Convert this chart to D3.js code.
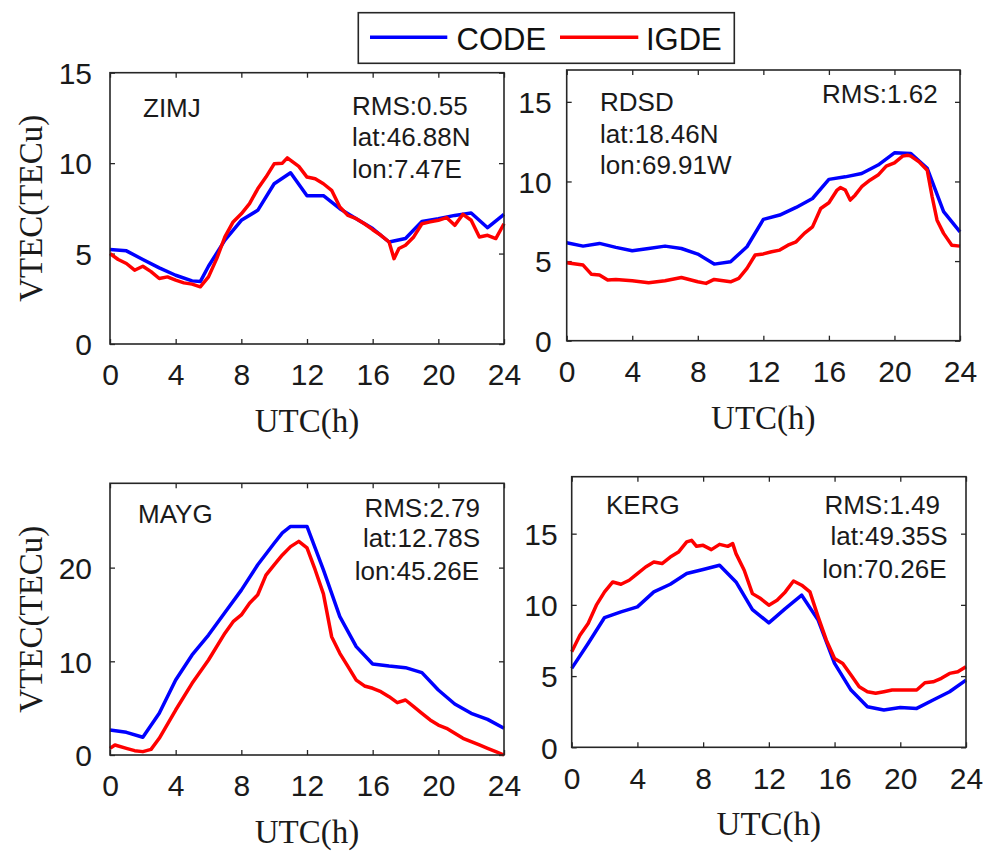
<!DOCTYPE html>
<html>
<head>
<meta charset="utf-8">
<script src="https://cdn.jsdelivr.net/npm/d3@7"></script>
<style>
  html, body { margin: 0; padding: 0; background: #fff; }
  svg { display: block; }
</style>
</head>
<body>
<svg id="chart" width="986" height="852"></svg>
<script>
// ---------------- DATA ----------------
const seriesNames = ["CODE", "IGDE"];
const xTicks = [0, 4, 8, 12, 16, 20, 24];

const stations = ["ZIMJ", "RDSD", "MAYG", "KERG"];
const rmsLabels = ["RMS:0.55", "RMS:1.62", "RMS:2.79", "RMS:1.49"];
const latLabels = ["lat:46.88N", "lat:18.46N", "lat:12.78S", "lat:49.35S"];
const lonLabels = ["lon:7.47E", "lon:69.91W", "lon:45.26E", "lon:70.26E"];
const yMaxes = [15, 17, 29, 19];
const yTicks = [[0, 5, 10, 15], [0, 5, 10, 15], [0, 10, 20], [0, 5, 10, 15]];

// [UTC hour, VTEC]
const zimjCode = [[0,5.22],[1,5.15],[2,4.67],[3,4.21],[4,3.8],[5,3.49],[5.5,3.45],[6,4.3],[7,5.74],[8,6.84],[9,7.39],[10,8.86],[11,9.47],[12,8.2],[13,8.2],[14,7.48],[15,6.93],[16,6.38],[17,5.64],[18,5.83],[19,6.78],[20,6.93],[21,7.11],[22,7.24],[23,6.43],[24,7.17]];
const zimjIgde = [[0,5.0],[0.5,4.67],[1,4.45],[1.5,4.08],[2,4.3],[2.5,4.0],[3,3.62],[3.5,3.71],[4,3.53],[4.5,3.38],[5,3.31],[5.5,3.16],[6,3.71],[6.5,4.72],[7,5.92],[7.5,6.75],[8,7.2],[8.5,7.76],[9,8.58],[9.5,9.23],[10,9.96],[10.5,10.0],[10.8,10.29],[11.5,9.82],[12,9.23],[12.5,9.14],[13,8.86],[13.5,8.5],[14,7.57],[14.5,7.11],[15,6.93],[15.5,6.65],[16,6.32],[16.5,6.01],[17,5.64],[17.3,4.72],[17.6,5.28],[18,5.46],[18.5,5.92],[19,6.65],[19.5,6.75],[20,6.84],[20.5,6.99],[21,6.56],[21.5,7.17],[22,6.84],[22.5,5.92],[23,6.01],[23.5,5.83],[24,6.65]];

const rdsdCode = [[0,6.15],[1,5.94],[2,6.11],[3,5.86],[4,5.65],[5,5.79],[6,5.94],[7,5.79],[8,5.44],[9,4.81],[10,4.96],[11,5.9],[12,7.62],[13,7.89],[14,8.37],[15,8.93],[16,10.13],[17,10.29],[18,10.5],[19,11.03],[20,11.8],[21,11.76],[22,10.82],[23,8.1],[24,6.84]];
const rdsdIgde = [[0,4.9],[1,4.75],[1.5,4.18],[2,4.12],[2.5,3.81],[3,3.85],[4,3.77],[5,3.64],[6,3.77],[7,3.97],[8,3.7],[8.5,3.6],[9,3.85],[10,3.7],[10.5,3.91],[11,4.54],[11.5,5.38],[12,5.45],[12.5,5.59],[13,5.69],[13.5,6.0],[14,6.21],[14.5,6.74],[15,7.15],[15.5,8.3],[16,8.66],[16.5,9.46],[16.7,9.62],[17,9.46],[17.3,8.83],[17.6,9.14],[18,9.67],[18.5,10.08],[19,10.4],[19.5,10.96],[20,11.17],[20.5,11.59],[20.8,11.65],[21,11.59],[21.5,11.23],[22,10.71],[22.3,9.04],[22.6,7.57],[23,6.74],[23.5,6.0],[24,5.94]];

const maygCode = [[0,2.67],[1,2.42],[2,1.89],[3,4.45],[4,8.0],[5,10.68],[6,12.8],[7,15.2],[8,17.6],[9,20.3],[10,22.6],[10.5,23.7],[11,24.4],[12,24.4],[13,19.75],[14,14.77],[15,11.57],[16,9.72],[17,9.5],[18,9.32],[19,8.79],[20,6.94],[21,5.44],[22,4.45],[23,3.8],[24,2.85]];
const maygIgde = [[0,0.71],[0.3,1.07],[1,0.71],[1.5,0.46],[2,0.36],[2.5,0.6],[3,1.78],[4,4.8],[5,7.65],[6,10.14],[7,13.0],[7.5,14.23],[8,14.95],[8.5,16.2],[9,17.1],[9.5,19.2],[10,20.3],[10.5,21.35],[11,22.24],[11.5,22.8],[12,22.1],[12.5,19.75],[13,17.2],[13.5,12.63],[14,10.85],[14.5,9.43],[15,8.0],[15.5,7.37],[16,7.12],[16.5,6.76],[17,6.23],[17.5,5.59],[18,5.87],[18.5,5.16],[19,4.45],[19.5,3.74],[20,3.2],[20.5,2.85],[21,2.31],[21.5,1.78],[22,1.42],[22.5,1.07],[23,0.71],[23.5,0.36],[24,0.0]];

const kergCode = [[0,5.54],[1,7.29],[2,9.11],[3,9.51],[4,9.86],[5,10.91],[6,11.45],[7,12.2],[8,12.48],[9,12.78],[10,11.61],[11,9.67],[12,8.74],[13,9.74],[14,10.68],[15,8.93],[16,5.89],[17,4.02],[18,2.85],[19,2.62],[20,2.8],[21,2.73],[22,3.32],[23,3.9],[24,4.72]];
const kergIgde = [[0,6.71],[0.5,7.87],[1,8.69],[1.5,9.98],[2,10.91],[2.5,11.61],[3,11.45],[3.5,11.73],[4,12.2],[4.5,12.66],[5,13.01],[5.5,12.9],[6,13.36],[6.5,13.71],[7,14.42],[7.3,14.53],[7.6,14.11],[8,14.18],[8.5,13.88],[9,14.25],[9.5,14.11],[9.8,14.3],[10,13.6],[10.5,12.43],[11,10.79],[11.5,10.44],[12,9.98],[12.5,10.33],[13,10.91],[13.5,11.68],[14,11.38],[14.5,10.91],[15,9.16],[15.5,7.52],[16,6.24],[16.5,5.89],[17,5.07],[17.5,4.25],[18,3.9],[18.5,3.79],[19,3.9],[19.5,4.02],[20,4.02],[21,4.02],[21.5,4.53],[22,4.6],[22.5,4.84],[23,5.19],[23.5,5.3],[24,5.65]];

const codeSeries = [zimjCode, rdsdCode, maygCode, kergCode];
const igdeSeries = [zimjIgde, rdsdIgde, maygIgde, kergIgde];

// ---------------- LAYOUT / STYLE ----------------
const colors = { CODE: "#0000ff", IGDE: "#ff0000" };
const SANS = "'Liberation Sans', Arial, sans-serif";
const SERIF = "'Liberation Serif', 'Times New Roman', serif";
const axisColor = "#262626";

const layout = [
  { left: 110, right: 504, top: 72.7, bottom: 344, ylabel: true, yLabGap: 18,
    name: [143, 117], infoAnchor: "start",
    rms: [352, 115], lat: [352, 146], lon: [352, 177.5] },
  { left: 566.7, right: 960, top: 70, bottom: 340.7, ylabel: false, yLabGap: 15,
    name: [600, 110.7], infoAnchor: "start",
    rms: [822, 103.3], lat: [600, 142.5], lon: [600, 174] },
  { left: 110, right: 504, top: 483.3, bottom: 755, ylabel: true, yLabGap: 18,
    name: [138, 522.7], infoAnchor: "end",
    rms: [480, 516.7], lat: [480, 547.3], lon: [479, 580] },
  { left: 571.7, right: 966, top: 476.7, bottom: 747.3, ylabel: false, yLabGap: 14,
    name: [606, 514], infoAnchor: "end",
    rms: [940, 514], lat: [947.5, 545], lon: [946.5, 578.3] }
];

const svg = d3.select("#chart");

layout.forEach((L, i) => {
  const x = d3.scaleLinear().domain([0, 24]).range([L.left, L.right]);
  const y = d3.scaleLinear().domain([0, yMaxes[i]]).range([L.bottom, L.top]);
  const g = svg.append("g");
  const W = L.right - L.left, H = L.bottom - L.top;

  const axB = d3.axisBottom(x).tickValues(xTicks).tickSize(-5).tickPadding(14).tickFormat(d3.format("d"));
  const axT = d3.axisTop(x).tickValues(xTicks).tickSize(-5).tickFormat("");
  const axL = d3.axisLeft(y).tickValues(yTicks[i]).tickSize(-5).tickPadding(L.yLabGap).tickFormat(d3.format("d"));
  const axR = d3.axisRight(y).tickValues(yTicks[i]).tickSize(-5).tickFormat("");

  const gB = g.append("g").attr("transform", `translate(0,${L.bottom})`).call(axB);
  const gT = g.append("g").attr("transform", `translate(0,${L.top})`).call(axT);
  const gL = g.append("g").attr("transform", `translate(${L.left},0)`).call(axL);
  const gR = g.append("g").attr("transform", `translate(${L.right},0)`).call(axR);

  [gB, gT, gL, gR].forEach(a => {
    a.selectAll(".domain").remove();
    a.selectAll(".tick line").attr("stroke", axisColor).attr("stroke-width", 1.3);
    a.selectAll(".tick text").attr("fill", "#1a1a1a")
      .style("font-family", SANS).style("font-size", "30px");
  });
  gB.selectAll(".tick text").attr("dy", "0.71em").attr("y", 20);
  gL.selectAll(".tick text").attr("dy", "0.36em");

  const line = d3.line().x(d => x(d[0])).y(d => y(d[1]));
  const clipId = "clip" + i;
  svg.append("clipPath").attr("id", clipId).append("rect")
    .attr("x", L.left - 2).attr("y", L.top).attr("width", W + 4).attr("height", H + 2);
  const lg = g.append("g").attr("clip-path", `url(#${clipId})`);
  lg.append("path").datum(codeSeries[i]).attr("d", line)
    .attr("fill", "none").attr("stroke", colors.CODE).attr("stroke-width", 3.5).attr("stroke-linejoin", "round");
  lg.append("path").datum(igdeSeries[i]).attr("d", line)
    .attr("fill", "none").attr("stroke", colors.IGDE).attr("stroke-width", 3.5).attr("stroke-linejoin", "round");

  g.append("rect").attr("x", L.left).attr("y", L.top).attr("width", W).attr("height", H)
    .attr("fill", "none").attr("stroke", axisColor).attr("stroke-width", 1.6);

  const txt = (pos, s, anchor) => g.append("text").attr("x", pos[0]).attr("y", pos[1])
    .attr("text-anchor", anchor).attr("fill", "#1a1a1a")
    .style("font-family", SANS).style("font-size", "26px").text(s);
  txt(L.name, stations[i], "start");
  txt(L.rms, rmsLabels[i], i === 1 ? "start" : L.infoAnchor);
  txt(L.lat, latLabels[i], L.infoAnchor);
  txt(L.lon, lonLabels[i], L.infoAnchor);

  g.append("text").attr("x", (L.left + L.right) / 2).attr("y", L.bottom + 88)
    .attr("text-anchor", "middle").attr("fill", "#1a1a1a")
    .style("font-family", SERIF).style("font-size", "33px").text("UTC(h)");
  if (L.ylabel) {
    const cy = (L.top + L.bottom) / 2;
    g.append("text").attr("transform", `translate(42,${cy}) rotate(-90)`)
      .attr("text-anchor", "middle").attr("fill", "#1a1a1a")
      .style("font-family", SERIF).style("font-size", "33px").text("VTEC(TECu)");
  }
});

// legend
const leg = svg.append("g");
leg.append("rect").attr("x", 358.3).attr("y", 12.7).attr("width", 376).attr("height", 50.6)
  .attr("fill", "#fff").attr("stroke", axisColor).attr("stroke-width", 1.6);
const legItems = [
  { name: seriesNames[0], x0: 370, x1: 447.3, tx: 456.5 },
  { name: seriesNames[1], x0: 560, x1: 638.3, tx: 646 }
];
legItems.forEach(it => {
  leg.append("line").attr("x1", it.x0).attr("x2", it.x1).attr("y1", 37.3).attr("y2", 37.3)
    .attr("stroke", colors[it.name]).attr("stroke-width", 3.5);
  leg.append("text").attr("x", it.tx).attr("y", 49.5).attr("fill", "#111")
    .style("font-family", SANS).style("font-size", "31px").text(it.name);
});
</script>
</body>
</html>
